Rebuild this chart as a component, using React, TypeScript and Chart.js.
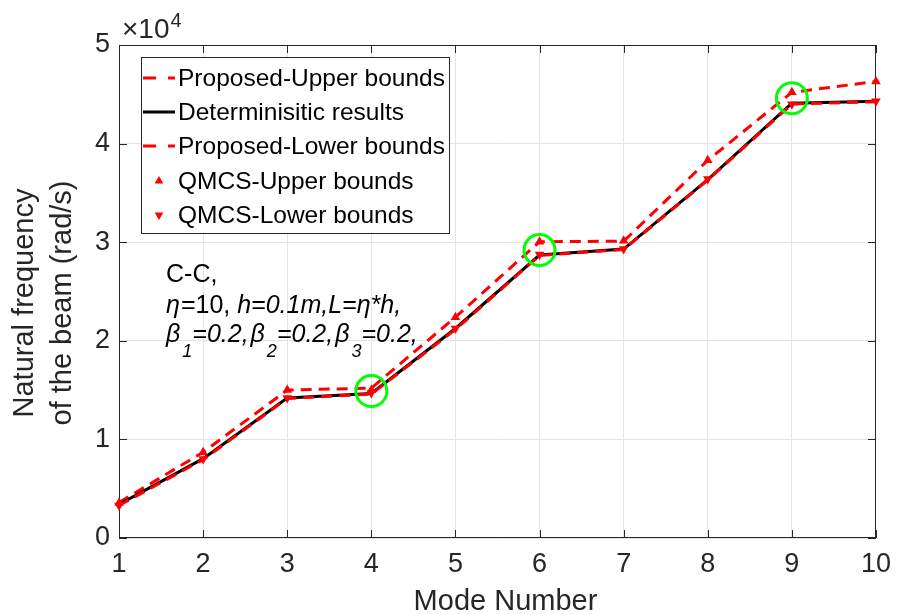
import React, { useEffect, useRef } from "react";
import { Chart, registerables } from "chart.js";

Chart.register(...registerables);

// ---- data (rad/s) ----
const modes = [1, 2, 3, 4, 5, 6, 7, 8, 9, 10];
const deterministic = [3400, 8050, 14200, 14650, 21250, 28700, 29300, 36350, 44100, 44300];
const proposedUpper = [3600, 8700, 15000, 15200, 22400, 30050, 30100, 38300, 45200, 46300];
const proposedLower = [3300, 7950, 14150, 14600, 21150, 28650, 29250, 36300, 44000, 44250];
const qmcsUpper = [3550, 8700, 15000, 15000, 22400, 30050, 30150, 38300, 45200, 46300];
const qmcsLower = [3300, 8000, 14200, 14700, 21250, 28750, 29300, 36400, 44000, 44300];
const highlightModes = [4, 6, 9];
const highlightValues = [14900, 29200, 44600];
const yTickValues = [0, 10000, 20000, 30000, 40000, 50000];
const yScaleFactor = 10000;
const legendLabels = [
  "Proposed-Upper bounds",
  "Determinisitic results",
  "Proposed-Lower bounds",
  "QMCS-Upper bounds",
  "QMCS-Lower bounds",
];
const xTitle = "Mode Number";
const yTitleLines = ["Natural frequency", "of the beam (rad/s)"];

const FONT = "'Liberation Sans', Arial, Helvetica, sans-serif";
const AX = "#262626";
const RED = "#ff0000";

const pts = (xs: number[], ys: number[]) => xs.map((x, i) => ({ x, y: ys[i] }));

function drawTri(ctx: CanvasRenderingContext2D, x: number, y: number, r: number, down: boolean) {
  const s = down ? -1 : 1;
  ctx.beginPath();
  ctx.moveTo(x, y - s * r);
  ctx.lineTo(x + r * 0.866, y + s * r * 0.5);
  ctx.lineTo(x - r * 0.866, y + s * r * 0.5);
  ctx.closePath();
  ctx.fillStyle = RED;
  ctx.fill();
}

const decorPlugin = {
  id: "decor",
  beforeDatasetsDraw(chart: any) {
    const { ctx, chartArea: a, scales } = chart;
    ctx.save();
    ctx.strokeStyle = AX;
    ctx.lineWidth = 1;
    const tl = 8;
    ctx.beginPath();
    modes.forEach((m) => {
      const px = Math.round(scales.x.getPixelForValue(m)) + 0.5;
      ctx.moveTo(px, a.bottom);
      ctx.lineTo(px, a.bottom - tl);
      ctx.moveTo(px, a.top);
      ctx.lineTo(px, a.top + tl);
    });
    yTickValues.forEach((v) => {
      const py = Math.round(scales.y.getPixelForValue(v)) + 0.5;
      ctx.moveTo(a.left, py);
      ctx.lineTo(a.left + tl, py);
      ctx.moveTo(a.right, py);
      ctx.lineTo(a.right - tl, py);
    });
    ctx.stroke();
    ctx.strokeRect(a.left + 0.5, a.top + 0.5, a.right - a.left - 1, a.bottom - a.top - 1);
    ctx.restore();
  },
  afterDraw(chart: any) {
    const { ctx, chartArea: a } = chart;
    ctx.save();
    // exponent
    ctx.fillStyle = AX;
    ctx.textBaseline = "alphabetic";
    ctx.textAlign = "left";
    ctx.font = `28px ${FONT}`;
    const ex = a.left + 3;
    ctx.fillText("\u00d710", ex, 38);
    const w = ctx.measureText("\u00d710").width;
    ctx.font = `20px ${FONT}`;
    ctx.fillText("4", ex + w + 1, 27);

    // axis titles
    ctx.font = `29px ${FONT}`;
    ctx.textAlign = "center";
    ctx.fillText(xTitle, (a.left + a.right) / 2 + 8, 610);
    const yc = 303;
    [33, 71].forEach((bx, i) => {
      ctx.save();
      ctx.translate(bx, yc);
      ctx.rotate(-Math.PI / 2);
      ctx.fillText(yTitleLines[i], 0, 0);
      ctx.restore();
    });

    // legend
    const lx = 141, ly = 57, lw = 308, lh = 176;
    ctx.fillStyle = "#ffffff";
    ctx.fillRect(lx, ly, lw, lh);
    ctx.strokeStyle = AX;
    ctx.lineWidth = 1;
    ctx.strokeRect(lx + 0.5, ly + 0.5, lw, lh);
    const rows = [78, 112, 146, 181, 215];
    rows.forEach((ry, i) => {
      ctx.save();
      if (i === 0 || i === 2) {
        ctx.strokeStyle = RED;
        ctx.lineWidth = 3;
        ctx.setLineDash([13, 12]);
        ctx.beginPath();
        ctx.moveTo(143, ry);
        ctx.lineTo(175, ry);
        ctx.stroke();
      } else if (i === 1) {
        ctx.strokeStyle = "#000";
        ctx.lineWidth = 3;
        ctx.beginPath();
        ctx.moveTo(143, ry);
        ctx.lineTo(175, ry);
        ctx.stroke();
      } else {
        drawTri(ctx, 159, ry, 5, i === 4);
      }
      ctx.restore();
      ctx.fillStyle = "#000";
      ctx.font = `24.5px ${FONT}`;
      ctx.textAlign = "left";
      ctx.textBaseline = "middle";
      ctx.fillText(legendLabels[i], 178, ry + 1);
    });

    // annotation
    ctx.textBaseline = "alphabetic";
    ctx.textAlign = "left";
    ctx.fillStyle = "#000";
    const segs = (x0: number, y0: number, parts: { t: string; it?: boolean; sub?: boolean; pad?: number }[]) => {
      let x = x0;
      parts.forEach((p) => {
        const size = p.sub ? 18 : 25;
        ctx.font = `${p.it ? "italic " : ""}${size}px ${FONT}`;
        ctx.fillText(p.t, x, y0 + (p.sub ? 15 : 0));
        x += ctx.measureText(p.t).width + (p.pad || 0);
      });
    };
    segs(166, 282, [{ t: "C-C," }]);
    segs(166, 313, [
      { t: "\u03b7", it: true, pad: 1 },
      { t: "=10, " },
      { t: "h=0.1m,L=\u03b7*h,", it: true },
    ]);
    segs(166, 342, [
      { t: "\u03b2", it: true, pad: 2 },
      { t: "1", it: true, sub: true },
      { t: "=0.2,", it: true, pad: 2 },
      { t: "\u03b2", it: true, pad: 2 },
      { t: "2", it: true, sub: true },
      { t: "=0.2,", it: true, pad: 2 },
      { t: "\u03b2", it: true, pad: 2 },
      { t: "3", it: true, sub: true },
      { t: "=0.2,", it: true },
    ]);
    ctx.restore();
  },
};

export default function App() {
  const ref = useRef<HTMLCanvasElement | null>(null);
  useEffect(() => {
    document.body.style.margin = "0";
    const canvas = ref.current;
    if (!canvas) return;
    const chart = new Chart(canvas, {
      type: "line",
      data: {
        datasets: [
          {
            label: "circles",
            data: pts(highlightModes, highlightValues),
            showLine: false,
            pointStyle: "circle",
            pointRadius: 15.5,
            pointBorderWidth: 3,
            pointBorderColor: "#00ff00",
            pointBackgroundColor: "rgba(0,0,0,0)",
            order: 0,
            clip: false as any,
          },
          {
            label: legendLabels[4],
            data: pts(modes, qmcsLower),
            showLine: false,
            pointStyle: "triangle",
            rotation: 180,
            pointRadius: 5.5,
            pointBorderWidth: 0,
            pointBackgroundColor: RED,
            pointBorderColor: RED,
            order: 1,
            clip: false as any,
          },
          {
            label: legendLabels[3],
            data: pts(modes, qmcsUpper),
            showLine: false,
            pointStyle: "triangle",
            pointRadius: 5.5,
            pointBorderWidth: 0,
            pointBackgroundColor: RED,
            pointBorderColor: RED,
            order: 2,
            clip: false as any,
          },
          {
            label: legendLabels[2],
            data: pts(modes, proposedLower),
            borderColor: RED,
            borderWidth: 3,
            borderDash: [11, 7],
            pointRadius: 0,
            order: 3,
          },
          {
            label: legendLabels[1],
            data: pts(modes, deterministic),
            borderColor: "#000000",
            borderWidth: 3,
            pointRadius: 0,
            order: 4,
          },
          {
            label: legendLabels[0],
            data: pts(modes, proposedUpper),
            borderColor: RED,
            borderWidth: 3,
            borderDash: [11, 7],
            pointRadius: 0,
            order: 5,
          },
        ],
      },
      options: {
        animation: false,
        responsive: false,
        devicePixelRatio: 1,
        events: [],
        layout: { padding: { top: 45, right: 16, left: 0, bottom: 0 } },
        plugins: { legend: { display: false }, tooltip: { enabled: false } },
        scales: {
          x: {
            type: "linear",
            min: 1,
            max: 10,
            afterFit: (s: any) => {
              s.height = 77;
            },
            afterBuildTicks: (s: any) => {
              s.ticks = modes.map((m) => ({ value: m }));
            },
            ticks: {
              autoSkip: false,
              maxRotation: 0,
              padding: 10,
              color: AX,
              font: { family: FONT, size: 27 },
              callback: (v: any) => String(v),
            },
            grid: { color: "#e4e4e4", lineWidth: 1, drawTicks: false },
            border: { display: false },
          },
          y: {
            type: "linear",
            min: 0,
            max: 50000,
            afterFit: (s: any) => {
              s.width = 119;
            },
            afterBuildTicks: (s: any) => {
              s.ticks = yTickValues.map((v) => ({ value: v }));
            },
            ticks: {
              padding: 9,
              color: AX,
              font: { family: FONT, size: 27 },
              callback: (v: any) => String(Number(v) / yScaleFactor),
            },
            grid: { color: "#e4e4e4", lineWidth: 1, drawTicks: false },
            border: { display: false },
          },
        },
      },
      plugins: [decorPlugin],
    } as any);
    return () => chart.destroy();
  }, []);
  return (
    <div style={{ width: 901, height: 615, background: "#fff" }}>
      <canvas ref={ref} width={901} height={615} />
    </div>
  );
}
